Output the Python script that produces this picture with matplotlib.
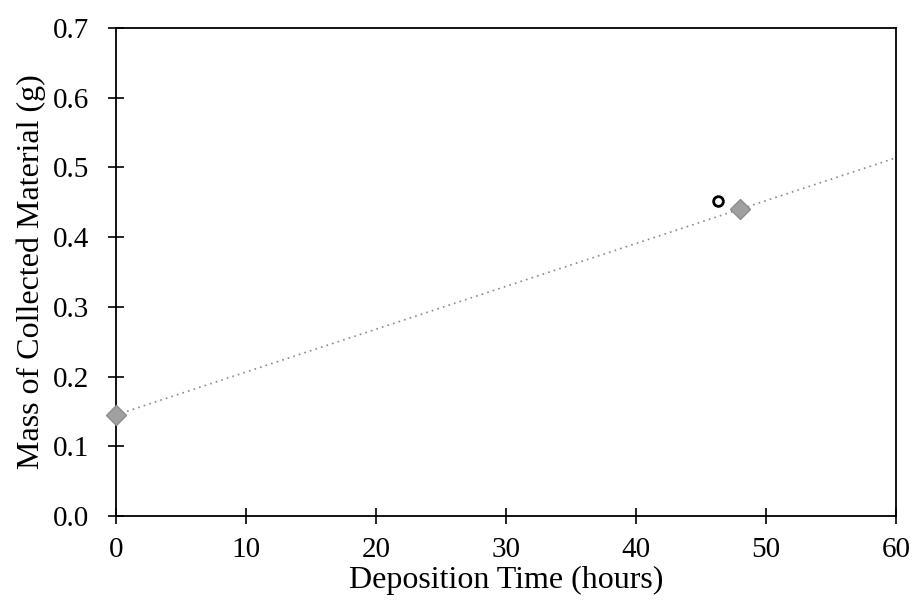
import numpy as np
import matplotlib
matplotlib.use("Agg")
import matplotlib.pyplot as plt

plt.rcParams['font.family'] = ['Liberation Serif', 'DejaVu Serif']

# measured points
time_h = [0, 48]
mass_g = [0.145, 0.44]
# stray open mark near the second point
odd_time = [46.3]
odd_mass = [0.452]

# linear trend line
fit = np.polyfit(time_h, mass_g, 1)
x_fit = np.array([0, 60])
y_fit = np.polyval(fit, x_fit)

fig = plt.figure(figsize=(9.16, 6.06), dpi=100)
ax = fig.add_axes([0.1266, 0.1485, 0.8514, 0.8053])

ax.plot(x_fit, y_fit, linestyle=(0, (1, 2.5)), color='#8a8a8a', linewidth=1.2)
ax.plot(time_h, mass_g, linestyle='none', marker='D', markersize=10,
        color='#a0a0a0', markeredgecolor='#8c8c8c', zorder=3, clip_on=False)
ax.plot(odd_time, odd_mass, linestyle='none', marker='o', markersize=7,
        markerfacecolor='white', markeredgecolor='black', markeredgewidth=2, zorder=3)

ax.set_xlim(0, 60)
ax.set_ylim(0, 0.7)
ax.set_xticks(np.arange(0, 61, 10))
ax.set_yticks(np.arange(0, 0.71, 0.1))
ax.set_yticklabels([f"{v:.1f}" for v in np.arange(0, 0.71, 0.1)])
ax.tick_params(direction='inout', length=12, width=1.2, labelsize=21)
ax.tick_params(axis='x', pad=9)
ax.tick_params(axis='y', pad=13)
for s in ax.spines.values():
    s.set_linewidth(1.3)

ax.set_xlabel('Deposition Time (hours)', fontsize=23, labelpad=2)
ax.set_ylabel('Mass of Collected Material (g)', fontsize=23, labelpad=5)

fig.savefig('out.png', dpi=100)
